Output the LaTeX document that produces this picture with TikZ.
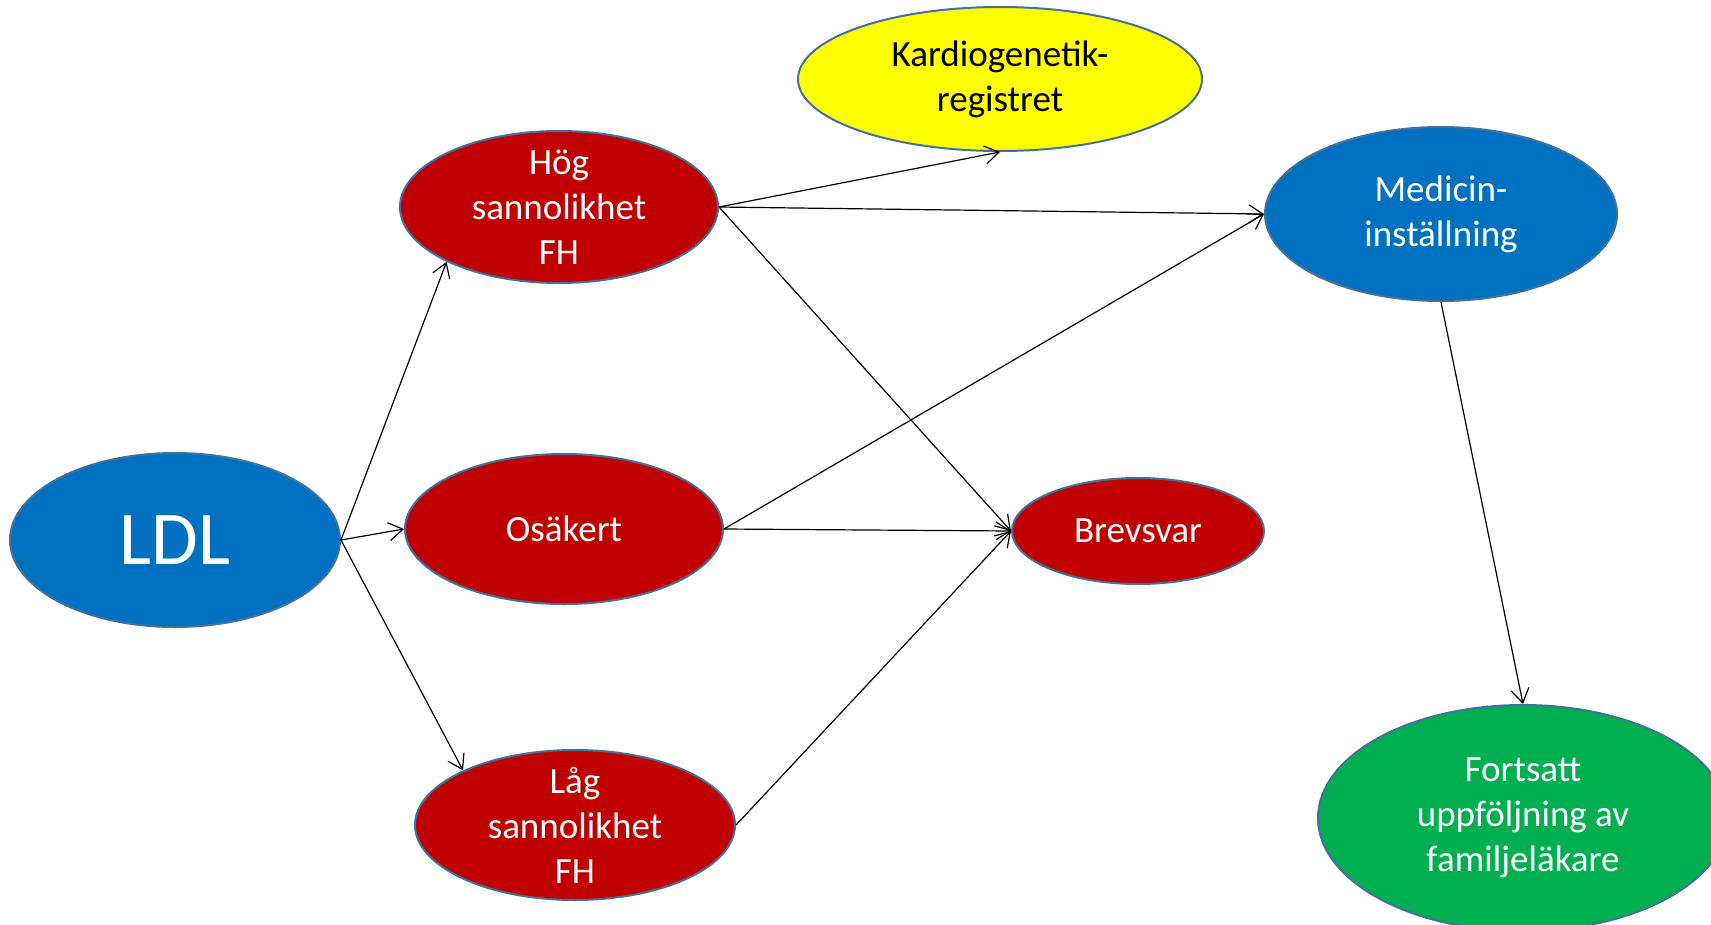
\documentclass[tikz,border=0pt]{standalone}
\usepackage{fontspec}
\setmainfont{Carlito}
\usetikzlibrary{shapes.geometric,arrows.meta}

\definecolor{ldlblue}{HTML}{0070C0}
\definecolor{fhred}{HTML}{C00000}
\definecolor{regyellow}{HTML}{FFFF00}
\definecolor{famgreen}{HTML}{00B050}
\definecolor{rim}{HTML}{41719C}

\tikzset{
  blob/.style={ellipse, draw=rim, line width=2pt, inner sep=0pt, align=center,
    text=white, font=\fontsize{37}{45}\selectfont},
  arr/.style={-{Straight Barb[length=14pt,width=18pt,line width=1.2pt]}, line width=1.2pt}
}

\begin{document}
\begin{tikzpicture}[x=1pt, y=-1pt]
  \useasboundingbox (0,0) rectangle (1711,924);
  \node[blob, fill=ldlblue, minimum width=330pt, minimum height=174pt, font=\fontsize{76}{80}\selectfont] (ldl) at (175,540) {LDL};
  \node[blob, fill=fhred, minimum width=318pt, minimum height=152pt, inner ysep=-14pt] (hog) at (559,207) {Hög\\sannolikhet\\FH};
  \node[blob, fill=fhred, minimum width=318pt, minimum height=150pt] (osk) at (564,529) {Osäkert};
  \node[blob, fill=fhred, minimum width=320pt, minimum height=150pt, inner ysep=-14pt] (lag) at (575,825) {Låg\\sannolikhet\\FH};
  \node[blob, fill=regyellow, text=black, minimum width=404pt, minimum height=144pt] (kard) at (1000,79) {Kardiogenetik-\\registret};
  \node[blob, fill=ldlblue, minimum width=352pt, minimum height=174pt] (med) at (1441,214) {Medicin-\\inställning};
  \node[blob, fill=fhred, minimum width=252pt, minimum height=106pt] (brev) at (1138,531) {Brevsvar};
  \node[blob, fill=famgreen, minimum width=410pt, minimum height=226pt] (fort) at (1523,818) {Fortsatt\\uppföljning av\\familjeläkare};

  \draw[arr] (ldl.east) -- (hog.206);
  \draw[arr] (ldl.east) -- (osk.west);
  \draw[arr] (ldl.east) -- (lag.154);
  \draw[arr] (hog.east) -- (kard.south);
  \draw[arr] (hog.east) -- (med.west);
  \draw[arr] (hog.east) -- (brev.west);
  \draw[arr] (osk.east) -- (med.west);
  \draw[arr] (osk.east) -- (brev.west);
  \draw[arr] (lag.east) -- (brev.west);
  \draw[arr] (med.south) -- (fort.north);
\end{tikzpicture}
\end{document}
